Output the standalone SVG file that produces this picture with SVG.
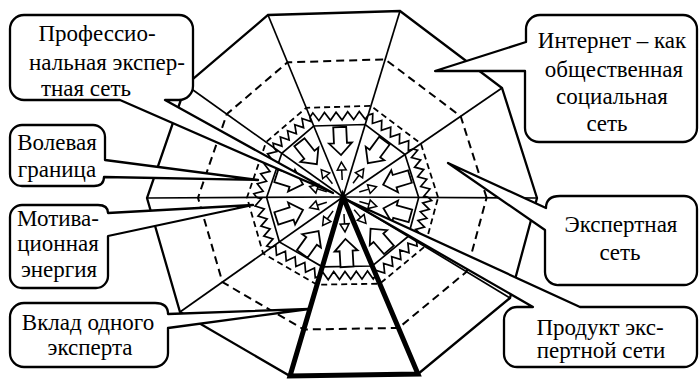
<svg xmlns="http://www.w3.org/2000/svg" xmlns:xlink="http://www.w3.org/1999/xlink" width="699" height="384" viewBox="0 0 699 384">
<style>
.ln{stroke:#000;fill:none;stroke-width:1.7}
.out{stroke:#000;fill:none;stroke-width:2.3;stroke-linejoin:miter}
.dash{stroke:#000;fill:none;stroke-width:2;stroke-dasharray:8 5}
.dash2{stroke:#000;fill:none;stroke-width:1.8;stroke-dasharray:6 4}
.co{fill:#fff;stroke:#000;stroke-width:2.3;stroke-linejoin:round}
.ba{fill:#fff;stroke:#000;stroke-width:1.8;stroke-linejoin:miter}
.sa{fill:#fff;stroke:#000;stroke-width:1.5}
.zz{fill:none;stroke:#000;stroke-width:1.7;stroke-linejoin:miter}
.t{font-family:'Liberation Serif','Times New Roman',serif;font-size:23px;fill:#000;text-anchor:middle}
</style>
<defs>
<path id="zig" d="M0,0 L2.6,-4 L7.8,4 L13,-4 L18.2,4 L23.4,-4 L28.6,4 L33.8,-4 L39,4 L44.2,-4 L49.4,4 L52,0" class="zz" vector-effect="non-scaling-stroke"/>
<polygon id="barrow" class="ba" points="70,-6.5 54,-6.5 54,-11.5 42,0 54,11.5 54,6.5 70,6.5"/>
<g id="sarrow"><line x1="17" y1="0" x2="27" y2="0" class="ln" style="stroke-width:1.5"/><polygon class="sa" points="27,-4.5 35,0 27,4.5"/></g>
</defs>
<rect width="699" height="384" fill="#fff"/>
<g id="network">
<polygon id="outer" class="out" fill="#fff" points="537,198 502,88 400,11 268,15 186,85 147,198 180,312 290,376 418,374 510,298"/>
<polygon id="dashed-outer" class="dash" points="486.6,197.7 460.7,116.3 385.2,59.4 287.5,62.3 226.8,114.1 198,197.7 222.4,282.1 303.8,329.5 398.5,328 466.6,271.7"/>
<polygon id="dashed-inner" class="dash2" points="438.1,197.5 420.9,143.6 370.9,105.9 306.2,107.8 266.1,142.1 247,197.5 263.1,253.4 317,284.7 379.8,283.7 424.8,246.5"/>
<g id="wavy">
<use xlink:href="#zig" transform="translate(428.4,197.4) rotate(-107.65) scale(0.977,1)"/>
<use xlink:href="#zig" transform="translate(413,149) rotate(-143) scale(1.081,1)"/>
<use xlink:href="#zig" transform="translate(368.1,115.2) rotate(178.3) scale(1.117,1)"/>
<use xlink:href="#zig" transform="translate(310,116.9) rotate(139.5) scale(0.913,1)"/>
<use xlink:href="#zig" transform="translate(273.9,147.7) rotate(109) scale(1.012,1)"/>
<use xlink:href="#zig" transform="translate(256.8,197.4) rotate(73.9) scale(1.004,1)"/>
<use xlink:href="#zig" transform="translate(271.3,247.6) rotate(30.2) scale(1.077,1)"/>
<use xlink:href="#zig" transform="translate(319.7,275.8) rotate(-0.9) scale(1.083,1)"/>
<use xlink:href="#zig" transform="translate(376,274.9) rotate(-39.6) scale(1.012,1)"/>
<use xlink:href="#zig" transform="translate(416.5,241.4) rotate(-74.9) scale(0.877,1)"/>
</g>
<polygon id="inner" class="ln" points="418.7,197.4 405,154.5 365.2,124.5 313.7,126 281.8,153.3 266.6,197.4 279.4,241.9 322.3,266.8 372.3,266 408.1,236.4"/>
<g id="spokes" class="ln">
<line x1="343" y1="197" x2="537" y2="198"/>
<line x1="343" y1="197" x2="502" y2="88"/>
<line x1="343" y1="197" x2="400" y2="11"/>
<line x1="343" y1="197" x2="268" y2="15"/>
<line x1="343" y1="197" x2="186" y2="85"/>
<line x1="343" y1="197" x2="147" y2="198"/>
<line x1="343" y1="197" x2="180" y2="312"/>
<line x1="343" y1="197" x2="290" y2="376"/>
<line x1="343" y1="197" x2="418" y2="374"/>
<line x1="343" y1="197" x2="510" y2="298"/>
</g>
<g id="block-arrows" transform="translate(343,197)">
<use xlink:href="#barrow" transform="rotate(-17)"/>
<use xlink:href="#barrow" transform="rotate(-53.7)"/>
<use xlink:href="#barrow" transform="rotate(-92.7)"/>
<use xlink:href="#barrow" transform="rotate(-128.5)"/>
<use xlink:href="#barrow" transform="rotate(-162.4)"/>
<use xlink:href="#barrow" transform="rotate(-197.8)"/>
<use xlink:href="#barrow" transform="rotate(-234.4)"/>
<use xlink:href="#barrow" transform="rotate(-273.3)"/>
<use xlink:href="#barrow" transform="rotate(-311)"/>
<use xlink:href="#barrow" transform="rotate(-344.4)"/>
</g>
<g id="small-arrows" transform="translate(343,197)">
<use xlink:href="#sarrow" transform="rotate(-17)"/>
<use xlink:href="#sarrow" transform="rotate(-53.7)"/>
<use xlink:href="#sarrow" transform="rotate(-92.7)"/>
<use xlink:href="#sarrow" transform="rotate(-128.5)"/>
<use xlink:href="#sarrow" transform="rotate(-162.4)"/>
<use xlink:href="#sarrow" transform="rotate(-197.8)"/>
<use xlink:href="#sarrow" transform="rotate(-234.4)"/>
<use xlink:href="#sarrow" transform="rotate(-273.3)"/>
<use xlink:href="#sarrow" transform="rotate(-311)"/>
<use xlink:href="#sarrow" transform="rotate(-344.4)"/>
</g>
</g>
<g id="connectors">
<path class="co" d="M333,193 L165,100 L179,100 A14,14 0 0 0 193,86 L193,29 A14,14 0 0 0 179,15 L24,15 A14,14 0 0 0 10,29 L10,86 A14,14 0 0 0 24,100 L120,100 Z"/>
<path class="co" d="M435,71 L526,42 L526,29 A14,14 0 0 1 540,15 L683,15 A14,14 0 0 1 697,29 L697,128 A14,14 0 0 1 683,142 L539,142 A14,14 0 0 1 525,128 L525,71 Z"/>
<path class="co" d="M258,180 L104,177 Q104,186 94,186 L22,186 A12,12 0 0 1 10,174 L10,137 A12,12 0 0 1 22,125 L93,125 A12,12 0 0 1 105,137 L105,160 Z"/>
<path class="co" d="M253,205 L108,213 Q108,205 98,205 L22,205 A12,12 0 0 0 10,217 L10,276 A12,12 0 0 0 22,288 L96,288 A12,12 0 0 0 108,276 L108,236 Z"/>
<path class="co" d="M309,309 L168,314 Q168,303 155,303 L24,303 A14,14 0 0 0 10,317 L10,353 A14,14 0 0 0 24,367 L154,367 A14,14 0 0 0 168,353 L168,328 Z"/>
<path class="co" d="M448,163 L546,208 Q546,196 560,196 L684,196 A13,13 0 0 1 697,209 L697,272 A13,13 0 0 1 684,285 L559,285 A13,13 0 0 1 545,272 L545,230 Z"/>
<path class="co" d="M345,199 L580,307 L684,307 A13,13 0 0 1 697,320 L697,354 A13,13 0 0 1 684,367 L517,367 A13,13 0 0 1 504,354 L504,320 A13,13 0 0 1 517,307 L533,307 Z"/>
</g>
<polygon id="contribution" points="343,197 290,376 418,374" fill="none" stroke="#000" stroke-width="5" stroke-linejoin="miter"/>
<g id="node-prof" class="t"><text x="97" y="41">Профессио-</text><text x="107" y="70">нальная экспер-</text><text x="86" y="96">тная сеть</text></g>
<g id="node-internet" class="t"><text x="612" y="48">Интернет – как</text><text x="614" y="77">общественная</text><text x="612" y="104">социальная</text><text x="607" y="131">сеть</text></g>
<g id="node-volevaya" class="t"><text x="57" y="150">Волевая</text><text x="57" y="177">граница</text></g>
<g id="node-motiv" class="t"><text x="58" y="226">Мотива-</text><text x="58" y="251">ционная</text><text x="59" y="277">энергия</text></g>
<g id="node-vklad" class="t"><text x="88" y="330">Вклад одного</text><text x="90" y="355">эксперта</text></g>
<g id="node-expert" class="t"><text x="621" y="232">Экспертная</text><text x="620" y="260">сеть</text></g>
<g id="node-product" class="t"><text x="600" y="335">Продукт экс-</text><text x="601" y="358">пертной сети</text></g>
</svg>
